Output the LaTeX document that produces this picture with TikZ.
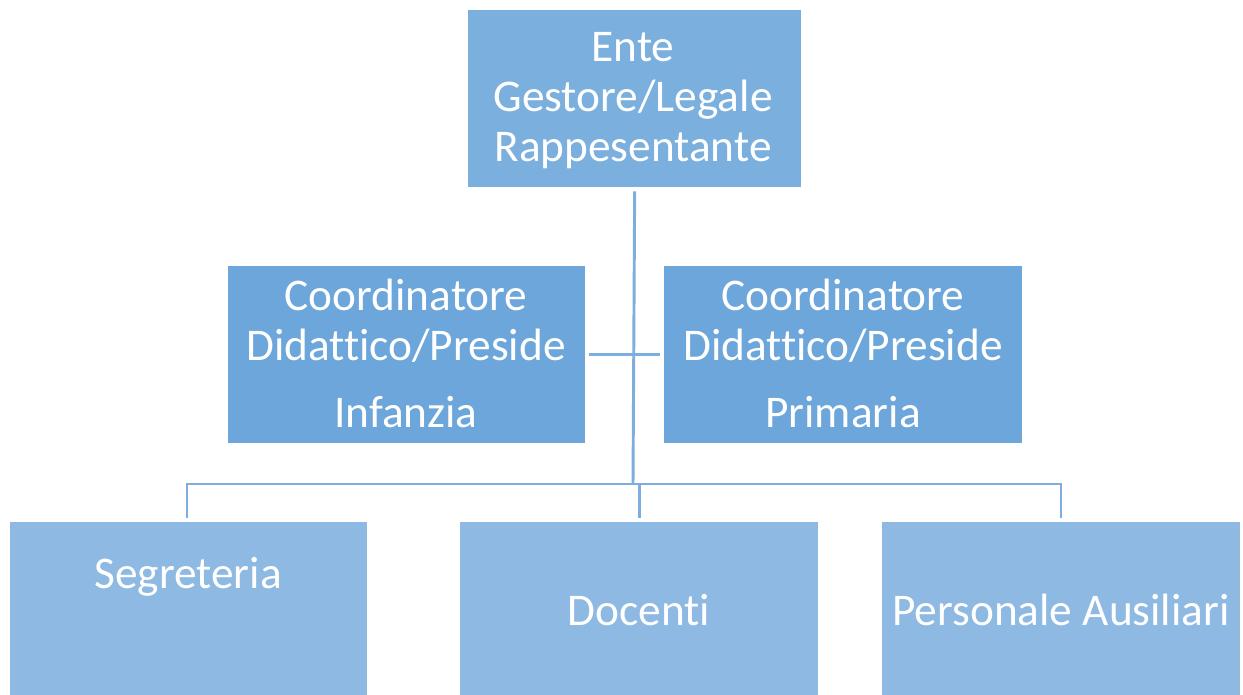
\documentclass[tikz,border=0pt]{standalone}
\usepackage{fontspec}
\setmainfont{Carlito}[Ligatures=NoCommon]
\definecolor{topc}{RGB}{123,175,222}
\definecolor{midc}{RGB}{108,166,218}
\definecolor{botc}{RGB}{141,185,227}
\definecolor{linec}{RGB}{126,174,221}
\begin{document}
\begin{tikzpicture}[x=0.75pt,y=-0.75pt,
  box/.style={draw=white,line width=1pt,inner sep=0pt,anchor=north west},
  txt/.style={text=white,font=\fontsize{34}{37.5}\selectfont,align=center,inner sep=0pt},
  conn/.style={draw=linec,line width=2.2pt}]
\useasboundingbox (0,0) rectangle (1243,695);
\clip (0,0) rectangle (1243,695);
% boxes
\node[box,fill=topc,minimum width=334*0.75pt,minimum height=178*0.75pt] (ente) at (467,9) {};
\node[box,fill=midc,minimum width=358*0.75pt,minimum height=178*0.75pt] (infa) at (227,265) {};
\node[box,fill=midc,minimum width=359*0.75pt,minimum height=178*0.75pt] (prim) at (663,265) {};
\node[box,fill=botc,minimum width=358*0.75pt,minimum height=180*0.75pt] (seg) at (9,521) {};
\node[box,fill=botc,minimum width=359*0.75pt,minimum height=180*0.75pt] (doc) at (459,521) {};
\node[box,fill=botc,minimum width=359*0.75pt,minimum height=180*0.75pt] (pers) at (881,521) {};
% texts
\node[txt] (tente) at (633,101) {Ente\\Gestore/Legale\\Rappesentante};
\node[txt] (tinfa) at (406,321) {Coordinatore\\Didattico/Preside};
\node[txt] (tinfb) at (406,412) {Infanzia};
\node[txt] (tprima) at (843,321) {Coordinatore\\Didattico/Preside};
\node[txt] (tprimb) at (843,412) {Primaria};
\node[txt] (tseg) at (188,577) {Segreteria};
\node[txt] (tdoc) at (639,610) {Docenti};
\node[txt] (tpers) at (1061,610) {Personale Ausiliari};
% connectors
\coordinate (bus) at (633,484);
\draw[conn] ([yshift=-3*0.75pt]ente.south) -- (bus);
\draw[conn] ([xshift=3*0.75pt]infa.east) -- ([xshift=-3*0.75pt]prim.west);
\draw[conn] (seg.north -| 187,0) ++(0,-3) |- (bus) -| ([yshift=3*0.75pt]pers.north -| 1061,0);
\draw[conn] (bus -| doc.north) -- ([yshift=3*0.75pt]doc.north);
\end{tikzpicture}
\end{document}
